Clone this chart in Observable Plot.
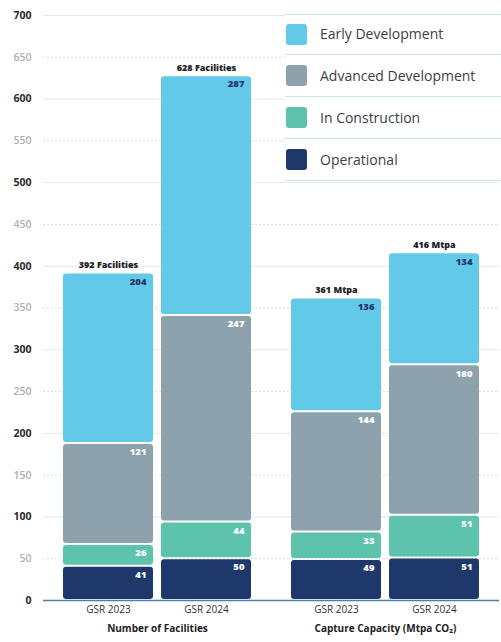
<!DOCTYPE html>
<html>
<head>
<meta charset="utf-8">
<script src="https://cdn.jsdelivr.net/npm/d3@7"></script>
<script src="https://cdn.jsdelivr.net/npm/@observablehq/plot@0.6"></script>
<style>
  body { margin: 0; background: #fff; font-family: "Open Sans", sans-serif; }
  #wrap { position: relative; width: 501px; height: 642px; }
  #legend {
    position: absolute; left: 285px; top: 14px; width: 216px;
    background: #fff; border-top: 1px solid #c9e6f0;
  }
  #legend .row {
    display: flex; align-items: center; height: 41px;
    border-bottom: 1px solid #c9e6f0;
  }
  #legend .row:first-child { height: 39px; }
  #legend .row:first-child .lab { margin-top: -2px; }
  #legend .sw { width: 21px; height: 21px; border-radius: 3px; margin: 0 13px 0 1px; }
  #legend .lab { font-size: 14px; color: #3b4047; }
</style>
</head>
<body>
<div id="wrap">
  <div id="chart"></div>
  <div id="legend"></div>
</div>
<script>
const groups = ["Number of Facilities", "Capture Capacity (Mtpa CO₂)"];
const reports = ["GSR 2023", "GSR 2024"];
const stages = ["Operational", "In Construction", "Advanced Development", "Early Development"];
const colors = ["#1f386c", "#5dc3ac", "#8ea2ae", "#63c9e8"];

const facilities2023 = [41, 26, 121, 204];
const facilities2024 = [50, 44, 247, 287];
const capacity2023 = [49, 33, 144, 136];
const capacity2024 = [51, 51, 180, 134];
const totalLabels = ["392 Facilities", "628 Facilities", "361 Mtpa", "416 Mtpa"];

const majorTicks = [0, 100, 200, 300, 400, 500, 600, 700];
const minorTicks = [50, 150, 250, 350, 450, 550, 650];

const series = [
  [groups[0], reports[0], facilities2023],
  [groups[0], reports[1], facilities2024],
  [groups[1], reports[0], capacity2023],
  [groups[1], reports[1], capacity2024]
];

const data = series.flatMap(([group, report, values]) =>
  values.map((value, i) => ({group, report, stage: stages[i], value}))
);
const totals = series.map(([group, report, values], i) => ({
  group, report, value: d3.sum(values), label: totalLabels[i]
}));

const isEarly = (d) => d.stage === stages[3];
const labelOpts = {
  fx: "group", x: "report", y: "value", z: "stage",
  textAnchor: "end", lineAnchor: "top",
  dx: 38, dy: 5, fontSize: 9.5, fontWeight: 800
};

const chart = Plot.plot({
  width: 501,
  height: 642,
  marginTop: 15,
  marginBottom: 42,
  marginLeft: 42,
  marginRight: 2,
  style: {fontFamily: "Open Sans, sans-serif"},
  fx: {domain: groups, padding: 0, axis: null},
  x: {domain: reports, paddingInner: 0.08, paddingOuter: 0.195, axis: null},
  y: {domain: [0, 700], axis: null},
  color: {domain: stages, range: colors},
  marks: [
    Plot.ruleY(majorTicks, {stroke: "#e4e8ec", strokeWidth: 1}),
    Plot.ruleY(minorTicks, {stroke: "#d8dde2", strokeWidth: 1, strokeDasharray: "2,2"}),
    Plot.axisY(majorTicks, {tickSize: 0, tickPadding: 12, fontSize: 10.5, fontWeight: 700, fill: "#2b2b2b", label: null}),
    Plot.axisY(minorTicks, {tickSize: 0, tickPadding: 12, fontSize: 10.5, fontWeight: 600, fill: "#b0b0b0", label: null}),
    Plot.barY(data, {
      fx: "group", x: "report", y: "value", fill: "stage", z: "stage",
      rx: 3, insetTop: 1, insetBottom: 1
    }),
    Plot.text(data, Plot.stackY2({
      ...labelOpts, text: (d) => (isEarly(d) ? null : d.value), fill: "#fff"
    })),
    Plot.text(data, Plot.stackY2({
      ...labelOpts, text: (d) => (isEarly(d) ? d.value : null), fill: "#1f386c"
    })),
    Plot.text(totals, {
      fx: "group", x: "report", y: "value", text: "label",
      lineAnchor: "bottom", dy: -5, fontSize: 9, fontWeight: 800, fill: "#222"
    }),
    Plot.ruleY([0], {stroke: "#4a80ab", strokeWidth: 1.5}),
    Plot.axisX({tickSize: 0, tickPadding: 5, fontSize: 10, fill: "#333", label: null}),
    Plot.axisFx({anchor: "bottom", tickSize: 0, tickPadding: 24, fontSize: 10, fontWeight: 700, fill: "#222", label: null})
  ]
});

d3.select("#chart").append(() => chart);

const legend = d3.select("#legend");
stages.slice().reverse().forEach((stage) => {
  const row = legend.append("div").attr("class", "row");
  row.append("div").attr("class", "sw").style("background", colors[stages.indexOf(stage)]);
  row.append("div").attr("class", "lab").text(stage);
});
</script>
</body>
</html>
